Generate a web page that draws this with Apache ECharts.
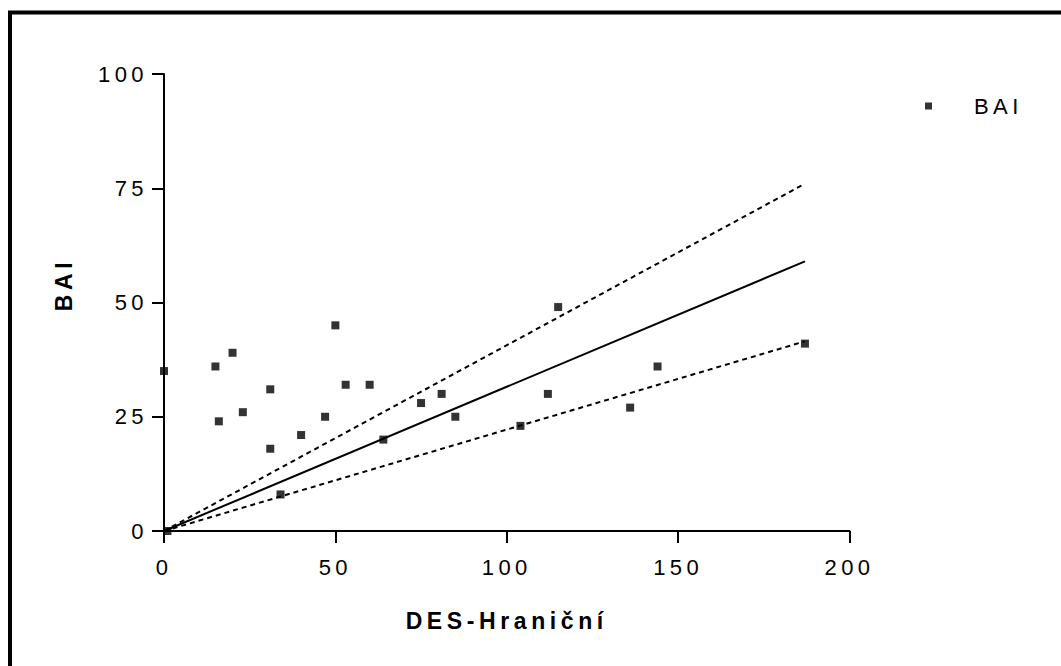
<!DOCTYPE html>
<html>
<head>
<meta charset="utf-8">
<script src="https://cdn.jsdelivr.net/npm/echarts@6/dist/echarts.min.js"></script>
<style>
  html, body { margin: 0; padding: 0; background: #fff; }
  #chart { width: 1061px; height: 666px; }
  /* Wide tracking on every label, in the style of the original figure */
  #chart text { letter-spacing: 0.2em; }
</style>
</head>
<body>
<div id="chart"></div>
<script>
// Scatter points: DES-Hraniční score vs BAI score
const desScores = [0, 1, 15, 16, 20, 23, 31, 31, 34, 40, 47, 50, 53, 60, 64, 75, 81, 85, 104, 112, 115, 136, 144, 187];
const baiScores = [35, 0, 36, 24, 39, 26, 31, 18, 8, 21, 25, 45, 32, 32, 20, 28, 30, 25, 23, 30, 49, 27, 36, 41];

// Regression line through the origin and its confidence bounds
const fitX = [0, 187];
const fitY = [0, 59];
const upperY = [0, 76];
const lowerY = [0, 41.5];

// Axis ticks
const xTicks = { min: 0, max: 200, step: 50 };
const yTicks = { min: 0, max: 100, step: 25 };

const FONT = '"Liberation Sans", Arial, sans-serif';

const pairs = (xs, ys) => xs.map((x, i) => [x, ys[i]]);

const chart = echarts.init(document.getElementById('chart'), null, { renderer: 'svg' });

chart.setOption({
  backgroundColor: '#ffffff',
  animation: false,
  graphic: [{
    type: 'rect',
    shape: { x: 10, y: 12.5, width: 1100, height: 700 },
    style: { fill: 'none', stroke: '#000', lineWidth: 4 },
    silent: true
  }],
  grid: { left: 164, top: 74, right: 211.5, bottom: 135, containLabel: false },
  legend: {
    left: 920, top: 90,
    icon: 'rect',
    itemWidth: 7, itemHeight: 7,
    data: ['BAI'],
    textStyle: { fontFamily: FONT, fontSize: 22, color: '#000', padding: [0, 0, 0, 37] }
  },
  xAxis: {
    type: 'value',
    min: xTicks.min, max: xTicks.max, interval: xTicks.step,
    name: 'DES-Hraniční',
    nameLocation: 'middle', nameGap: 78,
    nameTextStyle: { fontFamily: FONT, fontSize: 23, fontWeight: 'bold', color: '#000' },
    axisLine: { show: true, onZero: false, lineStyle: { color: '#000', width: 2 } },
    axisTick: { show: true, inside: false, length: 12, lineStyle: { color: '#000', width: 2 } },
    axisLabel: { fontFamily: FONT, fontSize: 22, color: '#000', margin: 25 },
    splitLine: { show: false }
  },
  yAxis: {
    type: 'value',
    min: yTicks.min, max: yTicks.max, interval: yTicks.step,
    name: 'BAI',
    nameLocation: 'middle', nameGap: 89,
    nameTextStyle: { fontFamily: FONT, fontSize: 23, fontWeight: 'bold', color: '#000', padding: [0, 0, 0, 36] },
    axisLine: { show: true, onZero: false, lineStyle: { color: '#000', width: 2 } },
    axisTick: { show: true, inside: false, length: 12, lineStyle: { color: '#000', width: 2 } },
    axisLabel: { fontFamily: FONT, fontSize: 22, color: '#000', margin: 16 },
    splitLine: { show: false }
  },
  series: [
    {
      name: 'upper', type: 'line', data: pairs(fitX, upperY),
      symbol: 'none', silent: true, z: 2,
      lineStyle: { color: '#000', width: 2, type: [5, 4] }
    },
    {
      name: 'lower', type: 'line', data: pairs(fitX, lowerY),
      symbol: 'none', silent: true, z: 2,
      lineStyle: { color: '#000', width: 2, type: [5, 4] }
    },
    {
      name: 'fit', type: 'line', data: pairs(fitX, fitY),
      symbol: 'none', silent: true, z: 2,
      lineStyle: { color: '#000', width: 2 }
    },
    {
      name: 'BAI', type: 'scatter', data: pairs(desScores, baiScores),
      symbol: 'rect', symbolSize: 8, z: 3,
      itemStyle: { color: '#000' }
    }
  ]
});
</script>
</body>
</html>
